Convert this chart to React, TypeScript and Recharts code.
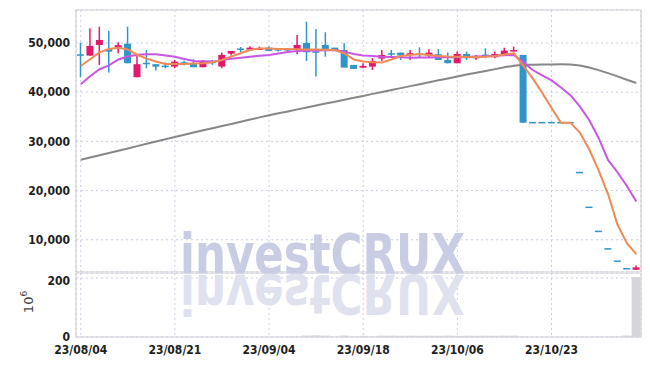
import React from 'react'
import { Bar, CartesianGrid, ComposedChart, Line, ReferenceArea, XAxis, YAxis } from 'recharts'

const FONT = '"DejaVu Sans Condensed", "DejaVu Sans", sans-serif'
const UP = '#e2196b'
const DOWN = '#2f95c9'
const GRID = '#c9cde4'
const FRAME = '#cfd0d8'

// x axis: trading-day index, labelled every 10 sessions
const DATE_TICKS = [0, 10, 20, 30, 40, 50]
const DATE_LABELS = ['23/08/04', '23/08/21', '23/09/04', '23/09/18', '23/10/06', '23/10/23']
const PRICE_TICKS = [10000, 20000, 30000, 40000, 50000]
const VOLUME_TICKS = [0, 200]

const OPEN = [
  47570, 47430, 49600, 48790, 49050, 49860, 43040, 45840, 45680, 45280,
  45200, 46090, 45680, 45070, 46350, 45200, 47830, 48760, 48650, 48580,
  49050, 48620, 48620, 48580, 50010, 48180, 49600, 49050, 48580, 45540,
  44990, 45200, 46820, 47800, 48040, 47570, 47770, 47430, 47710, 46550,
  45880, 47770, 46900, 47570, 47100, 47570, 48380, 47570, 33800, 33800,
  33800, 33800, 33800, 23660, 16600, 11700, 8150, 5650, 4100, 3900,
]
const HIGH = [
  50070, 52990, 53310, 52500, 50150, 53310, 47570, 48580, 45680, 46010,
  46550, 46410, 46700, 46550, 46550, 48040, 48380, 49190, 49340, 49260,
  49260, 48730, 48900, 51630, 54330, 52850, 52180, 49050, 49940, 45540,
  45880, 46900, 48580, 48580, 48040, 48580, 49130, 48730, 48730, 48040,
  48240, 48240, 47570, 48930, 48240, 49050, 49260, 47570, 33800, 33800,
  33800, 33800, 33800, 23660, 16600, 11700, 8150, 5650, 4100, 4790,
]
const LOW = [
  43040, 47430, 45540, 43980, 47910, 45880, 43040, 44870, 44380, 44870,
  44870, 45400, 45070, 45070, 45540, 44870, 47430, 48120, 48650, 48580,
  48380, 48240, 48300, 47710, 46350, 43160, 47220, 48520, 44990, 44730,
  44870, 44520, 46350, 47220, 46550, 46550, 46900, 47100, 46550, 45880,
  45880, 46550, 46550, 46900, 46900, 47570, 48240, 33800, 33800, 33800,
  33800, 33800, 33800, 23660, 16600, 11700, 8150, 5650, 4100, 3900,
]
const CLOSE = [
  47520, 49400, 50610, 48240, 49540, 45880, 45680, 45800, 45200, 45200,
  46210, 45740, 45070, 46350, 45880, 47570, 48380, 48700, 49050, 48990,
  48380, 48580, 48580, 49600, 48120, 48120, 48650, 48520, 44990, 44730,
  45340, 46350, 47570, 47740, 47430, 47910, 47570, 48040, 46550, 45880,
  47770, 46900, 47370, 47370, 47770, 48440, 48440, 33800, 33800, 33800,
  33800, 33800, 33800, 23660, 16600, 11700, 8150, 5650, 4100, 4390,
]
const MA5 = [
  45330, 46690, 48080, 48790, 49030, 48690, 47610, 46820, 46230, 45740,
  45740, 45740, 45820, 45880, 46100, 46550, 47260, 47910, 48580, 48890,
  48850, 48790, 48750, 48730, 48690, 48650, 48620, 48580, 47870, 46650,
  46230, 46100, 46040, 46650, 47360, 47570, 47770, 47570, 47360, 47260,
  47220, 47160, 47120, 47200, 47360, 47650, 47910, 45400, 42800, 39900,
  36800, 33800, 33800, 31800, 28400, 24100, 19300, 13100, 9300, 7100,
]
const MA10 = [
  41610, 43240, 44660, 45430, 46650, 47240, 47610, 47710, 47710, 47470,
  47200, 46760, 46350, 46290, 46210, 46510, 46780, 47000, 47220, 47390,
  47550, 47850, 48180, 48380, 48420, 48480, 48520, 48580, 48240, 47750,
  47470, 47340, 47220, 47160, 47080, 47020, 47040, 47060, 47080, 47080,
  47100, 47160, 47240, 47320, 47410, 47490, 47570, 46100, 44500, 43400,
  42390, 40960, 39380, 37100, 34350, 30700, 26230, 23730, 20940, 17790,
]
const MA_LONG = [
  26250, 26720, 27180, 27630, 28100, 28560, 29030, 29500, 29960, 30430,
  30900, 31340, 31790, 32240, 32660, 33110, 33540, 33980, 34430, 34880,
  35320, 35710, 36090, 36500, 36890, 37290, 37680, 38060, 38470, 38860,
  39240, 39650, 40030, 40440, 40820, 41230, 41620, 42000, 42410, 42790,
  43180, 43570, 43930, 44320, 44680, 45050, 45390, 45550, 45590, 45610,
  45630, 45650, 45630, 45430, 45030, 44480, 43870, 43220, 42530, 41860,
]
// volume, 10^6 shares
const VOLUME = [
  0.8, 0.6, 0.7, 0.6, 0.5, 0.7, 0.6, 0.5, 0.4, 0.4,
  0.4, 0.3, 0.4, 0.3, 0.4, 0.5, 0.4, 0.4, 0.3, 0.3,
  0.4, 0.5, 0.5, 0.8, 5, 5.5, 4.5, 1, 5, 1,
  4, 1.2, 4.5, 4.5, 4, 4.5, 4, 4.5, 4, 4.5,
  4, 4.5, 4, 4.5, 4, 4.5, 4.5, 1.2, 0.3, 0.3,
  0.3, 0.3, 0.3, 0.6, 0.7, 0.8, 0.9, 1, 5, 203,
]

const rows = OPEN.map((open, i) => ({
  i,
  open,
  high: HIGH[i],
  low: LOW[i],
  close: CLOSE[i],
  range: [LOW[i], HIGH[i]],
  ma5: MA5[i],
  ma10: MA10[i],
  maLong: MA_LONG[i],
  volume: VOLUME[i],
}))

const X_DOMAIN: [number, number] = [-0.5, 59.5]
const PRICE_DOMAIN: [number, number] = [3450, 56700]
const VOLUME_DOMAIN: [number, number] = [0, 217]

const tickStyle = { fontSize: 12, fontWeight: 'bold' as const, fill: '#1e1e1e', fontFamily: FONT }

function Candle(props: any) {
  const { x, y, width, height, payload } = props
  if (x == null || y == null) return null
  const { open, close, high, low } = payload
  const color = close > open ? UP : DOWN
  const span = high - low
  const toPx = (v: number) => (span > 0 ? y + ((high - v) / span) * height : y)
  const cx = x + width / 2
  const top = toPx(Math.max(open, close))
  const bottom = toPx(Math.min(open, close))
  const bodyH = Math.max(bottom - top, 1.5)
  const mid = (top + bottom) / 2
  return (
    <g>
      {span > 0 && (
        <line x1={cx} x2={cx} y1={y} y2={y + height} stroke={color} strokeWidth={1.5} />
      )}
      <rect x={x} y={mid - bodyH / 2} width={width} height={bodyH} fill={color} />
    </g>
  )
}

function VolumeLabel(props: any) {
  const { viewBox } = props
  const cx = viewBox.x + 33
  const cy = viewBox.y + viewBox.height / 2 - 3
  return (
    <text
      x={cx}
      y={cy}
      transform={`rotate(-90, ${cx}, ${cy})`}
      textAnchor="middle"
      fontSize={13}
      fill="#444"
      fontFamily='"DejaVu Sans", sans-serif'
    >
      10
      <tspan dy={-6} fontSize={9}>6</tspan>
    </text>
  )
}

export default function App() {
  return (
    <div
      style={{
        position: 'absolute',
        left: 0,
        top: 0,
        width: 650,
        height: 366,
        background: '#fff',
        fontFamily: FONT,
      }}
    >
      <div style={{ position: 'absolute', left: 0, top: 0 }}>
        <ComposedChart width={650} height={273} data={rows} margin={{ top: 10, right: 9, bottom: 1, left: 0 }}>
          <CartesianGrid stroke={GRID} strokeDasharray="2 3" />
          <XAxis
            dataKey="i"
            type="number"
            domain={X_DOMAIN}
            ticks={DATE_TICKS}
            allowDataOverflow
            hide
          />
          <YAxis
            type="number"
            domain={PRICE_DOMAIN}
            ticks={PRICE_TICKS}
            allowDataOverflow
            width={76}
            axisLine={false}
            tickLine={false}
            tickMargin={0}
            tick={tickStyle}
            tickFormatter={(v: number) => v.toLocaleString('en-US')}
          />
          <ReferenceArea
            x1={X_DOMAIN[0]}
            x2={X_DOMAIN[1]}
            y1={PRICE_DOMAIN[0]}
            y2={PRICE_DOMAIN[1]}
            fill="none"
            stroke={FRAME}
            strokeWidth={1.2}
          />
          <Line dataKey="maLong" type="linear" stroke="#878787" strokeWidth={2} dot={false} isAnimationActive={false} />
          <Bar dataKey="range" barSize={7} shape={<Candle />} isAnimationActive={false} />
          <Line dataKey="ma10" type="linear" stroke="#c955e6" strokeWidth={2} dot={false} isAnimationActive={false} />
          <Line dataKey="ma5" type="linear" stroke="#ee8a55" strokeWidth={2} dot={false} isAnimationActive={false} />
        </ComposedChart>
      </div>
      <div style={{ position: 'absolute', left: 0, top: 273 }}>
        <ComposedChart width={650} height={93} data={rows} margin={{ top: 0, right: 9, bottom: 0, left: 0 }}>
          <CartesianGrid stroke={GRID} strokeDasharray="2 3" />
          <XAxis
            dataKey="i"
            type="number"
            domain={X_DOMAIN}
            ticks={DATE_TICKS}
            allowDataOverflow
            height={29}
            axisLine={false}
            tickLine={false}
            tick={tickStyle}
            tickFormatter={(v: number) => DATE_LABELS[DATE_TICKS.indexOf(v)] ?? ''}
          />
          <YAxis
            type="number"
            domain={VOLUME_DOMAIN}
            ticks={VOLUME_TICKS}
            allowDataOverflow
            width={76}
            axisLine={false}
            tickLine={false}
            tickMargin={0}
            tick={tickStyle}
            label={<VolumeLabel />}
          />
          <ReferenceArea
            x1={X_DOMAIN[0]}
            x2={X_DOMAIN[1]}
            y1={VOLUME_DOMAIN[0]}
            y2={VOLUME_DOMAIN[1]}
            fill="none"
            stroke={FRAME}
            strokeWidth={1.2}
          />
          <Bar dataKey="volume" barSize={9} fill="#d5d5db" isAnimationActive={false} />
        </ComposedChart>
      </div>
      <svg
        width={650}
        height={366}
        style={{ position: 'absolute', left: 0, top: 0, pointerEvents: 'none' }}
      >
        <text
          x={180}
          y={273}
          fontSize={56}
          fontWeight="bold"
          fontFamily='"DejaVu Sans", sans-serif'
          textLength={285}
          lengthAdjust="spacingAndGlyphs"
          fill="#c8cde3"
        >
          investCRUX
        </text>
        <text
          x={180}
          y={273}
          transform="translate(0, 548) scale(1, -1)"
          fontSize={56}
          fontWeight="bold"
          fontFamily='"DejaVu Sans", sans-serif'
          textLength={285}
          lengthAdjust="spacingAndGlyphs"
          fill="#dfe2ee"
        >
          investCRUX
        </text>
      </svg>
    </div>
  )
}
